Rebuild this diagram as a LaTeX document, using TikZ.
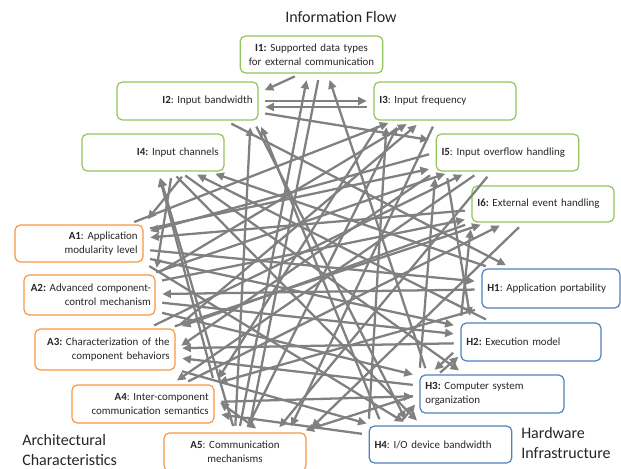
\documentclass[tikz,border=0pt]{standalone}
\usepackage{fontspec}
\setmainfont{Carlito}
\usetikzlibrary{arrows.meta}
\definecolor{igreen}{RGB}{146,196,90}
\definecolor{aorange}{RGB}{247,150,70}
\definecolor{hblue}{RGB}{79,129,189}
\definecolor{flowgray}{RGB}{128,128,128}
\frenchspacing
\tikzset{
	box/.style={draw, rounded corners=4pt, line width=0.9pt, fill=white, inner xsep=4pt, inner ysep=1pt, font=\fontsize{8.2}{10.2}\selectfont\frenchspacing, text=black!85},
	ibox/.style={box, draw=igreen},
	abox/.style={box, draw=aorange},
	hbox/.style={box, draw=hblue},
	flowarrow/.style={draw=flowgray, line width=1.7pt, -{Triangle[length=6.5pt,width=6pt]}, shorten >=5pt, shorten <=5pt},
	flowboth/.style={flowarrow, {Triangle[length=6.5pt,width=6pt]}-{Triangle[length=6.5pt,width=6pt]}},
	grouplabel/.style={font=\fontsize{12}{14.5}\selectfont, align=left, inner sep=0pt, text=black!85}
}

\begin{document}
\begin{tikzpicture}[x=0.75pt,y=-0.75pt]
			\useasboundingbox (0,0) rectangle (621,468);
			\node[font=\fontsize{12}{14}\selectfont, text=black!85] (title) at (341,17) {Information Flow};
			\node[ibox, text width=99pt, minimum height=27.75pt, align=center] (i1) at (311.5,54.5) {\textbf{I1:} Supported data types\\for external communication};
			\node[ibox, text width=97.75pt, minimum height=28.5pt, align=right] (i2) at (187.5,101) {\textbf{I2}: Input bandwidth};
			\node[ibox, text width=98.5pt, minimum height=28.5pt, align=left] (i3) at (445,101) {\textbf{I3}: Input frequency};
			\node[ibox, text width=98.5pt, minimum height=27.75pt, align=right] (i4) at (153,152.5) {\textbf{I4:} Input channels};
			\node[ibox, text width=99pt, minimum height=27.75pt, align=left] (i5) at (507.5,152.5) {\textbf{I5}: Input overflow handling};
			\node[ibox, text width=98.5pt, minimum height=27pt, align=left] (i6) at (543,204) {\textbf{I6:} External event handling};
			\node[abox, text width=88pt, minimum height=27.75pt, align=right] (a1) at (79,243.5) {\textbf{A1}: Application\\modularity level};
			\node[abox, inner xsep=3pt, text width=92.25pt, minimum height=30pt, align=right] (a2) at (89.5,295) {\textbf{A2:} Advanced component-\\control mechanism};
			\node[abox, text width=97pt, minimum height=30.75pt, align=right] (a3) at (105,349.5) {\textbf{A3:} Characterization of the\\component behaviors};
			\node[abox, text width=98.5pt, minimum height=28.5pt, align=right] (a4) at (143,404) {\textbf{A4}: Inter-component\\communication semantics};
			\node[abox, text width=98.5pt, minimum height=28.5pt, align=center] (a5) at (235,452) {\textbf{A5}: Communication\\mechanisms};
			\node[hbox, text width=95.5pt, minimum height=29.25pt, align=left] (h1) at (551,288.5) {\textbf{H1}: Application portability};
			\node[hbox, text width=97pt, minimum height=28.5pt, align=left] (h2) at (531,342) {\textbf{H2:} Execution model};
			\node[hbox, text width=100pt, minimum height=28.5pt, align=left] (h3) at (492,394) {\textbf{H3:} Computer system\\organization};
			\node[hbox, text width=99pt, minimum height=27.75pt, align=left] (h4) at (440.5,444.5) {\textbf{H4}: I/O device bandwidth};
			\node[grouplabel, anchor=west] (archlabel) at (22,450) {Architectural\\Characteristics};
			\node[grouplabel, anchor=west] (hwlabel) at (521,443) {Hardware\\Infrastructure};
			\draw[flowarrow] ([xshift=-8pt]i1.south) -- ([yshift=6pt]i2.east);
			\draw[flowarrow] (i2.east) -- (i3.west);
			\draw[flowarrow] ([yshift=-4.5pt]i3.west) -- ([yshift=-4.5pt]i2.east);
			\draw[flowarrow] (i2) -- (i5);
			\draw[flowarrow] (a5) -- (i1);
			\draw[flowarrow] ([xshift=6pt]i1.south) -- ([xshift=10pt]a5.north);
			\draw[flowarrow] ([xshift=6pt]h3.north west) -- ([xshift=12pt]i1.south);
			\draw[flowarrow] ([xshift=-4pt]i2.south east) -- ([xshift=30pt]h4.north west);
			\draw[flowarrow] (a5.north) -- ([xshift=-6pt]i2.south east);
			\draw[flowarrow] (a1) -- (i3);
			\draw[flowarrow] (a2.north east) -- (i3);
			\draw[flowarrow] (a3.north east) -- (i3);
			\draw[flowarrow] (i3) -- ([xshift=40pt]a5.north);
			\draw[flowarrow] (a5) -- ([xshift=20pt]i3.south west);
			\draw[flowarrow] (h4.north west) -- ([xshift=10pt]i3.south west);
			\draw[flowarrow] ([xshift=6pt]i3.south west) -- (a4.north east);
			\draw[flowarrow] (i4.-30) -- (a1.north east);
			\draw[flowarrow] (i4.-45) -- (a2.north east);
			\draw[flowarrow] (a4.north east) -- (i4);
			\draw[flowarrow] (a5.north) -- (i4);
			\draw[flowarrow] (h1) -- (i4);
			\draw[flowarrow] (h2) -- (i4);
			\draw[flowarrow] (i4) -- (h4);
			\draw[flowarrow] (a1) -- (i5);
			\draw[flowarrow] (a2) -- (i5);
			\draw[flowarrow] (a3) -- (i5);
			\draw[flowarrow] (i5.south west) -- (a3.east);
			\draw[flowarrow] (i5) -- ([xshift=30pt]a5.north);
			\draw[flowarrow] (h3.north west) -- (i5.south west);
			\draw[flowarrow] (a2) -- (i6);
			\draw[flowarrow] (a3) -- (i6);
			\draw[flowarrow] (a4) -- (i6);
			\draw[flowarrow] (i5.west) -- ([yshift=8pt]a1.east);
			\draw[flowarrow] (h2.north west) -- (i6.south west);
			\draw[flowarrow] ([xshift=8pt]i5.south west) -- ([xshift=8pt]h2.north west);
			\draw[flowarrow] (a1) -- (h1);
			\draw[flowarrow] (i2) -- (h1);
			\draw[flowarrow] (h1) -- (a2);
			\draw[flowarrow] (a1) -- (h2);
			\draw[flowarrow] (h2) -- (a3);
			\draw[flowarrow] (a2) -- (h2);
			\draw[flowarrow, shorten >=2pt, shorten <=2pt] ([xshift=14pt]h3.north west) -- ([yshift=5pt]h2.south west);
			\draw[flowarrow, shorten >=2pt, shorten <=2pt] ([xshift=-4pt,yshift=8pt]h2.south west) -- ([xshift=10pt,yshift=2pt]h3.north west);
			\draw[flowarrow] (i4) -- (h3);
			\draw[flowarrow] (h3) -- (a3);
			\draw[flowarrow] (a4) -- (h3);
			\draw[flowarrow] (h3.west) -- ([xshift=48pt]a5.north);
			\draw[flowarrow] ([xshift=22pt]h4.north west) -- ([yshift=-4pt]h3.west);
			\draw[flowarrow] ([xshift=10pt]h4.north west) -- (i2.south east);
			\draw[flowarrow] (a1.south east) -- (h4);
			\draw[flowarrow] (a3) -- (h4);
			\draw[flowarrow] (h4) -- (a4);
			\draw[flowarrow] (i6) -- (a5.north east);
			\draw[flowarrow] (i5) -- (a4);
			\draw[flowboth] ([yshift=4pt]a4.east) -- ([xshift=20pt]a5.north);
			\draw[flowarrow] (i6) -- (a1);
			\draw[flowarrow] (i6.south west) -- (a3.north east);
			\draw[flowarrow] (a2) -- (h3);
			\draw[flowarrow] (h1) -- (a4);
		\end{tikzpicture}
\end{document}
